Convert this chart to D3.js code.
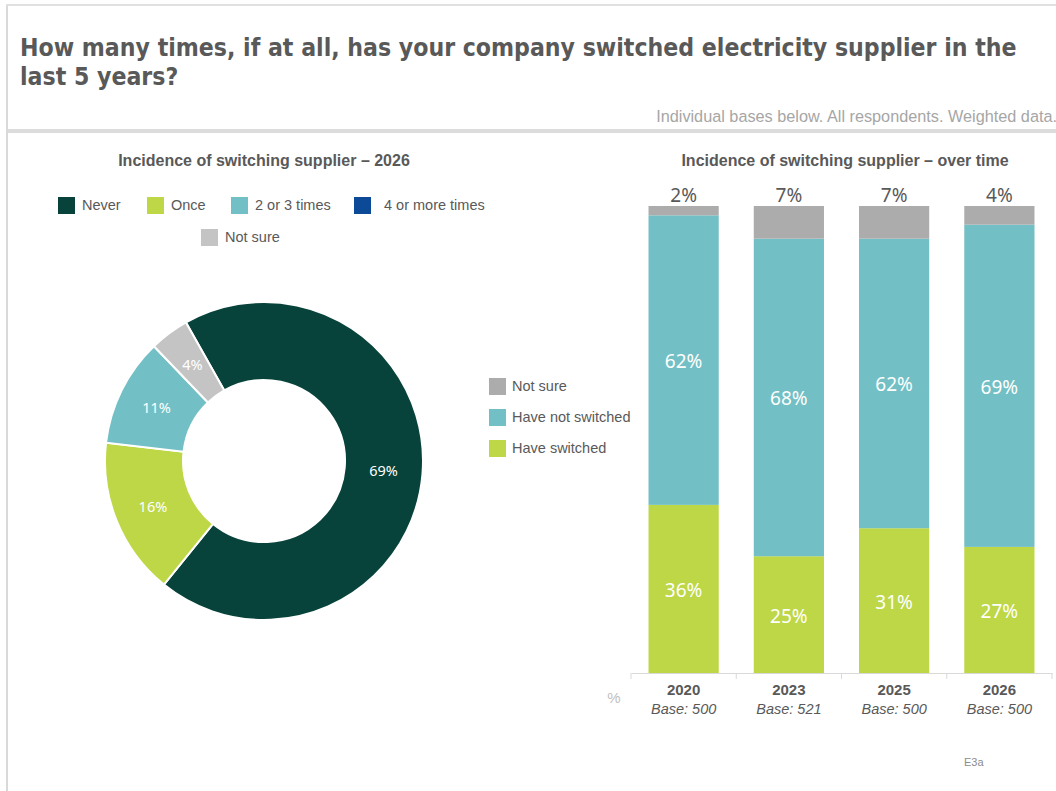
<!DOCTYPE html>
<html>
<head>
<meta charset="utf-8">
<script src="https://cdn.jsdelivr.net/npm/d3@7"></script>
<style>
  html, body { margin: 0; padding: 0; background: #fff; }
  svg { display: block; }
</style>
</head>
<body>
<svg id="chart" width="1056" height="791"></svg>
<script>
// ---- Data ----
const donutCategories = ["Never", "Once", "2 or 3 times", "4 or more times", "Not sure"];
const donutValues = [69, 16, 11, 0, 4];

const years = ["2020", "2023", "2025", "2026"];
const bases = ["Base: 500", "Base: 521", "Base: 500", "Base: 500"];
const barSeries = ["Have switched", "Have not switched", "Not sure"];
const haveSwitched = [36, 25, 31, 27];
const haveNotSwitched = [62, 68, 62, 69];
const notSure = [2, 7, 7, 4];

const titleLines = ["How many times, if at all, has your company switched electricity supplier in the", "last 5 years?"];
const subtitle = "Individual bases below. All respondents. Weighted data.";

// ---- Styling ----
const donutColors = ["#07433a", "#bdd746", "#72bfc5", "#0c4a97", "#c4c4c4"];
const barColors = { "Have switched": "#bdd746", "Have not switched": "#72bfc5", "Not sure": "#acacac" };
const textGray = "#595959";
const sans = "'Liberation Sans', Arial, sans-serif";
const labelFont = "'Noto Sans', 'Open Sans', sans-serif";

const svg = d3.select("#chart");

// ---- Frame ----
svg.append("rect").attr("x", 6).attr("y", 5).attr("width", 2).attr("height", 786).attr("fill", "#d9d9d9");
svg.append("rect").attr("x", 6).attr("y", 4).attr("width", 1050).attr("height", 2).attr("fill", "#e0e0e0");
svg.append("rect").attr("x", 8).attr("y", 129).attr("width", 1048).attr("height", 4).attr("fill", "#dcdcdc");

// ---- Title ----
const title = svg.append("g").attr("font-family", "'DejaVu Sans Condensed', 'DejaVu Sans', sans-serif")
  .attr("font-weight", "bold").attr("fill", textGray);
const t1 = title.append("text").attr("x", 20).attr("y", 56).attr("font-size", 24).text(titleLines[0]);
const t2 = title.append("text").attr("x", 20).attr("y", 85).attr("font-size", 24).text(titleLines[1]);
const wanted = 997;
const fs = 24 * wanted / t1.node().getComputedTextLength();
t1.attr("font-size", fs);
t2.attr("font-size", fs);

const sub = svg.append("text").attr("x", 1057).attr("y", 122).attr("text-anchor", "end")
  .attr("font-family", "'Liberation Sans Narrow', 'Liberation Sans', sans-serif")
  .attr("font-size", 15).attr("fill", "#a6a6a6").text(subtitle);
const subW = sub.node().getComputedTextLength();
sub.attr("font-size", 15 * 401 / subW);

// ---- Donut (left) ----
svg.append("text").attr("x", 264).attr("y", 166).attr("text-anchor", "middle")
  .attr("font-family", sans).attr("font-weight", "bold").attr("font-size", 16)
  .attr("fill", textGray).text("Incidence of switching supplier – 2026");

const legendLeft = [
  { i: 0, x: 58, y: 197 }, { i: 1, x: 147, y: 197 }, { i: 2, x: 231, y: 197 },
  { i: 3, x: 354, y: 197, gap: 13 }, { i: 4, x: 201, y: 229 }
];
const lg = svg.append("g").attr("font-family", sans).attr("font-size", 14.5).attr("fill", textGray);
legendLeft.forEach(d => {
  lg.append("rect").attr("x", d.x).attr("y", d.y).attr("width", 17).attr("height", 17).attr("fill", donutColors[d.i]);
  lg.append("text").attr("x", d.x + 17 + (d.gap || 7)).attr("y", d.y + 13).text(donutCategories[d.i]);
});

const cx = 264, cy = 461, rOuter = 159, rInner = 81;
const firstSliceAngle = -29.4 * Math.PI / 180;
const pie = d3.pie().sort(null).value(d => d.value)
  .startAngle(firstSliceAngle).endAngle(firstSliceAngle + 2 * Math.PI);
const arcs = pie(donutCategories.map((c, i) => ({ cat: c, value: donutValues[i], color: donutColors[i] })));
const arc = d3.arc().innerRadius(rInner).outerRadius(rOuter);
const labelArc = d3.arc().innerRadius(120).outerRadius(120);
const dg = svg.append("g").attr("transform", `translate(${cx},${cy})`);
dg.selectAll("path").data(arcs.filter(a => a.data.value > 0)).join("path")
  .attr("d", arc).attr("fill", d => d.data.color).attr("stroke", "#fff").attr("stroke-width", 2);
dg.selectAll("text").data(arcs.filter(a => a.data.value > 0)).join("text")
  .attr("transform", d => `translate(${labelArc.centroid(d)})`)
  .attr("text-anchor", "middle").attr("dy", "0.36em")
  .attr("font-family", labelFont).attr("font-size", 14.5).attr("fill", "#fff")
  .text(d => d.data.value + "%");

// ---- Stacked bars (right) ----
svg.append("text").attr("x", 845).attr("y", 166).attr("text-anchor", "middle")
  .attr("font-family", sans).attr("font-weight", "bold").attr("font-size", 16)
  .attr("fill", textGray).text("Incidence of switching supplier – over time");

const legendRight = ["Not sure", "Have not switched", "Have switched"];
const lr = svg.append("g").attr("font-family", sans).attr("font-size", 14.5).attr("fill", textGray);
legendRight.forEach((s, i) => {
  const y = 378 + i * 31;
  lr.append("rect").attr("x", 489).attr("y", y).attr("width", 17).attr("height", 17).attr("fill", barColors[s]);
  lr.append("text").attr("x", 512).attr("y", y + 13).text(s);
});

const x = d3.scaleBand().domain(years).range([631, 1052]).paddingInner(0.333).paddingOuter(0.1665);
const y = d3.scaleLinear().domain([0, 100]).range([673, 206]);

const rows = years.map((yr, i) => ({
  year: yr, "Have switched": haveSwitched[i], "Have not switched": haveNotSwitched[i], "Not sure": notSure[i]
}));
const stacked = d3.stack().keys(barSeries)(rows);

const bars = svg.append("g");
stacked.forEach(layer => {
  const g = bars.append("g").attr("fill", barColors[layer.key]);
  g.selectAll("rect").data(layer).join("rect")
    .attr("x", d => x(d.data.year)).attr("width", x.bandwidth())
    .attr("y", d => y(d[1])).attr("height", d => y(d[0]) - y(d[1]));
  if (layer.key !== "Not sure") {
    bars.append("g").selectAll("text").data(layer).join("text")
      .attr("x", d => x(d.data.year) + x.bandwidth() / 2)
      .attr("y", d => (y(d[0]) + y(d[1])) / 2 + 8)
      .attr("text-anchor", "middle").attr("font-family", labelFont).attr("font-size", 19)
      .attr("fill", "#fff").text(d => d.data[layer.key] + "%");
  } else {
    bars.append("g").selectAll("text").data(layer).join("text")
      .attr("x", d => x(d.data.year) + x.bandwidth() / 2)
      .attr("y", d => y(d[1]) - 4)
      .attr("text-anchor", "middle").attr("font-family", labelFont).attr("font-size", 19)
      .attr("fill", textGray).text(d => d.data[layer.key] + "%");
  }
});

// x axis with separators between categories
const axis = svg.append("g").attr("transform", "translate(0,673)")
  .call(d3.axisBottom(x).tickSize(0).tickPadding(11));
axis.select(".domain").attr("stroke", "#d9d9d9");
axis.selectAll(".tick text").attr("font-family", sans).attr("font-weight", "bold")
  .attr("font-size", 15).attr("fill", textGray);
axis.selectAll(".tick").append("text")
  .attr("y", 41).attr("fill", textGray).attr("font-family", sans).attr("font-style", "italic")
  .attr("font-size", 14.5).attr("text-anchor", "middle")
  .text(d => bases[years.indexOf(d)]);
d3.range(years.length + 1).forEach(i => {
  const bx = x.range()[0] + i * x.step();
  axis.append("line").attr("x1", bx).attr("x2", bx).attr("y1", 0).attr("y2", 6).attr("stroke", "#d9d9d9");
});

svg.append("text").attr("x", 614).attr("y", 703).attr("text-anchor", "middle")
  .attr("font-family", sans).attr("font-size", 15).attr("fill", "#bfbfbf").text("%");

svg.append("text").attr("x", 964).attr("y", 766)
  .attr("font-family", sans).attr("font-size", 11).attr("fill", "#8c8c8c").text("E3a");
</script>
</body>
</html>
